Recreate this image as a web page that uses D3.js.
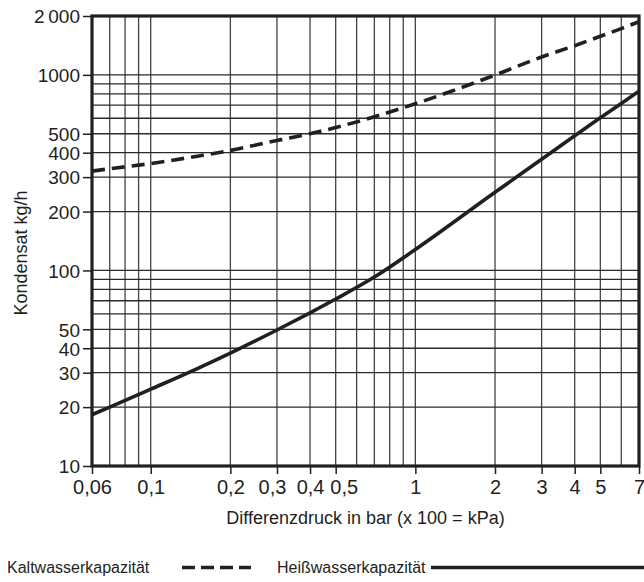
<!DOCTYPE html>
<html>
<head>
<meta charset="utf-8">
<script src="https://cdnjs.cloudflare.com/ajax/libs/d3/7.8.5/d3.min.js"></script>
<style>
  body { margin: 0; background: #fff; }
  svg { display: block; }
  text { font-family: "Liberation Sans", Arial, Helvetica, sans-serif; fill: #231f20; }
</style>
</head>
<body>
<svg id="chart" width="644" height="582"></svg>
<script>
// Differenzdruck in bar
var pressure = [0.06, 0.07, 0.1, 0.15, 0.2, 0.3, 0.4, 0.5, 0.7, 1, 2, 3, 4, 5, 6, 7];
// Kondensat kg/h
var kaltwasser = [322, 331, 352, 384, 411, 462, 500, 538, 611, 712, 998, 1235, 1410, 1575, 1725, 1870];
var heisswasser = [18.3, 20.0, 24.7, 31.5, 37.8, 49.6, 60.7, 71.4, 92.5, 128, 251, 370, 488, 604, 714, 826];

// grid and tick values
var xGrid = [0.06, 0.07, 0.08, 0.09, 0.1, 0.2, 0.3, 0.4, 0.5, 0.6, 0.7, 0.8, 0.9, 1, 2, 3, 4, 5, 6, 7];
var yGrid = [10, 20, 30, 40, 50, 60, 70, 80, 90, 100, 200, 300, 400, 500, 600, 700, 800, 900, 1000, 2000];
var xTicks = [0.06, 0.1, 0.2, 0.3, 0.4, 0.5, 1, 2, 3, 4, 5, 7];
var xTickLabels = ["0,06", "0,1", "0,2", "0,3", "0,4", "0,5", "1", "2", "3", "4", "5", "7"];
var yTicks = [10, 20, 30, 40, 50, 100, 200, 300, 400, 500, 1000, 2000];
var yTickLabels = ["10", "20", "30", "40", "50", "100", "200", "300", "400", "500", "1000", "2\u2009000"];

var svg = d3.select("#chart"),
    margin = {top: 16, right: 5, bottom: 116, left: 92},
    width = +svg.attr("width") - margin.left - margin.right,
    height = +svg.attr("height") - margin.top - margin.bottom;

var x = d3.scaleLog().domain([0.06, 7]).range([0, width]),
    y = d3.scaleLog().domain([10, 2000]).range([height, 0]);

var g = svg.append("g")
    .attr("transform", "translate(" + margin.left + "," + margin.top + ")");

// grid
g.append("g").selectAll("line")
    .data(xGrid)
    .enter().append("line")
    .attr("x1", function(d) { return x(d); })
    .attr("x2", function(d) { return x(d); })
    .attr("y1", 0)
    .attr("y2", height)
    .attr("stroke", "#444")
    .attr("stroke-width", 1.3);

g.append("g").selectAll("line")
    .data(yGrid)
    .enter().append("line")
    .attr("y1", function(d) { return y(d); })
    .attr("y2", function(d) { return y(d); })
    .attr("x1", 0)
    .attr("x2", width)
    .attr("stroke", "#2a2a2a")
    .attr("stroke-width", 1.3);

// axes
var xAxis = g.append("g")
    .attr("transform", "translate(0," + height + ")")
    .call(d3.axisBottom(x).tickValues(xTicks).tickSize(8).tickPadding(6)
        .tickFormat(function(d, i) { return xTickLabels[i]; }));

var yAxis = g.append("g")
    .call(d3.axisLeft(y).tickValues(yTicks).tickSize(9).tickPadding(3)
        .tickFormat(function(d, i) { return yTickLabels[i]; }));

[xAxis, yAxis].forEach(function(a) {
    a.select(".domain").remove();
    a.selectAll("line").attr("stroke", "#231f20").attr("stroke-width", 1.5);
    a.selectAll("text").attr("font-family", null).attr("fill", "#231f20");
});
xAxis.selectAll("text").style("font-size", "20px");
yAxis.selectAll("text").style("font-size", "19px").attr("dy", "0.36em");

// the crowded labels 0,3 and 0,5 are pushed apart a little
xAxis.selectAll("text").attr("dx", function(d) {
    return d === 0.3 ? -5 : d === 0.5 ? 8 : 0;
});

// frame
g.append("rect")
    .attr("x", 0).attr("y", 0)
    .attr("width", width).attr("height", height)
    .attr("fill", "none")
    .attr("stroke", "#231f20")
    .attr("stroke-width", 3.2);

// curves
var line = d3.line()
    .x(function(d) { return x(d[0]); })
    .y(function(d) { return y(d[1]); })
    .curve(d3.curveMonotoneX);

g.append("path")
    .datum(pressure.map(function(p, i) { return [p, kaltwasser[i]]; }))
    .attr("d", line)
    .attr("fill", "none")
    .attr("stroke", "#231f20")
    .attr("stroke-width", 3.6)
    .attr("stroke-dasharray", "13,7");

g.append("path")
    .datum(pressure.map(function(p, i) { return [p, heisswasser[i]]; }))
    .attr("d", line)
    .attr("fill", "none")
    .attr("stroke", "#231f20")
    .attr("stroke-width", 3.6);

// axis titles
svg.append("text")
    .attr("x", margin.left + width / 2)
    .attr("y", 524)
    .attr("text-anchor", "middle")
    .style("font-size", "18px")
    .text("Differenzdruck in bar (x 100 = kPa)");

svg.append("text")
    .attr("transform", "translate(27,253) rotate(-90)")
    .attr("text-anchor", "middle")
    .style("font-size", "18px")
    .text("Kondensat kg/h");

// legend
var legend = svg.append("g");
legend.append("text").attr("x", 7).attr("y", 573).style("font-size", "16px").text("Kaltwasserkapazität");
legend.append("line")
    .attr("x1", 182).attr("x2", 251).attr("y1", 567.5).attr("y2", 567.5)
    .attr("stroke", "#231f20").attr("stroke-width", 3.6).attr("stroke-dasharray", "13,6");
legend.append("text").attr("x", 277).attr("y", 573).style("font-size", "16px").text("Heißwasserkapazität");
legend.append("line")
    .attr("x1", 431).attr("x2", 644).attr("y1", 567.5).attr("y2", 567.5)
    .attr("stroke", "#231f20").attr("stroke-width", 3.6);
</script>
</body>
</html>
